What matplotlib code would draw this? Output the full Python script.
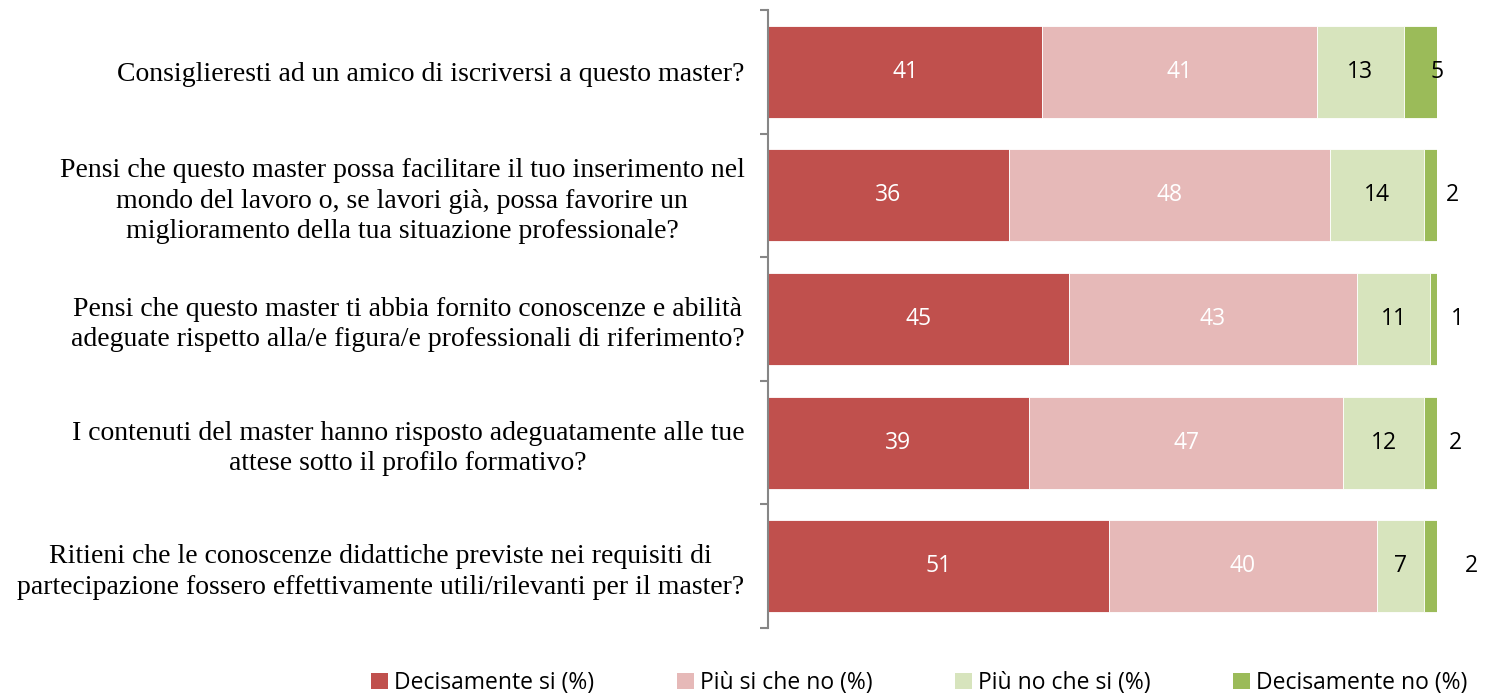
import matplotlib
matplotlib.use("Agg")
import matplotlib.pyplot as plt
from matplotlib.patches import Patch

categories = [
    "Consiglieresti ad un amico di iscriversi a questo master?",
    "Pensi che questo master possa facilitare il tuo inserimento nel\nmondo del lavoro o, se lavori già, possa favorire un\nmiglioramento della tua situazione professionale?",
    "Pensi che questo master ti abbia fornito conoscenze e abilità\nadeguate rispetto alla/e figura/e professionali di riferimento?",
    "I contenuti del master hanno risposto adeguatamente alle tue\nattese sotto il profilo formativo?",
    "Ritieni che le conoscenze didattiche previste nei requisiti di\npartecipazione fossero effettivamente utili/rilevanti per il master?",
]
series_names = ["Decisamente si (%)", "Più si che no (%)", "Più no che si (%)", "Decisamente no (%)"]
decisamente_si = [41, 36, 45, 39, 51]
piu_si = [41, 48, 43, 47, 40]
piu_no = [13, 14, 11, 12, 7]
decisamente_no = [5, 2, 1, 2, 2]
series = [decisamente_si, piu_si, piu_no, decisamente_no]

colors = ["#C0504D", "#E6B9B8", "#D7E4BD", "#9BBB59"]
label_colors = ["white", "white", "black", "black"]
# horizontal offsets (in points) for last-series labels
last_offsets_pt = [0, 11, 14.5, 13, 25]

fig = plt.figure(figsize=(14.85, 6.97), dpi=100)
ax = fig.add_axes([0.5172, 0.099, 0.4505, 0.8867])

y = list(range(len(categories)))
left = [0] * len(categories)
for si, (vals, col) in enumerate(zip(series, colors)):
    ax.barh(y, vals, left=left, height=0.745, color=col,
            edgecolor="white", linewidth=0.6, label=series_names[si])
    for i, (v, l) in enumerate(zip(vals, left)):
        if si < 3:
            ax.text(l + v / 2, i, str(v), ha="center", va="center",
                    color=label_colors[si], fontsize=16.5, family="Open Sans")
        else:
            ax.annotate(str(v), xy=(l + v, i), xytext=(last_offsets_pt[i], 0),
                        textcoords="offset points", ha="center", va="center",
                        color="black", fontsize=16.5, family="Open Sans")
    left = [a + b for a, b in zip(left, vals)]

ax.set_xlim(0, 100)
ax.set_ylim(len(categories) - 0.5, -0.5)
ax.set_yticks(y)
ax.set_yticklabels(categories, family="Liberation Serif", fontsize=20,
                   linespacing=1.28)
ax.tick_params(axis="y", length=0, pad=17)
ax.set_yticks([i - 0.5 for i in range(len(categories) + 1)], minor=True)
ax.tick_params(axis="y", which="minor", length=6, width=1.5, color="#868686", direction="out")
ax.set_xticks([])
for s in ["top", "right", "bottom"]:
    ax.spines[s].set_visible(False)
ax.spines["left"].set_color("#868686")
ax.spines["left"].set_linewidth(1.5)
for lbl in ax.get_yticklabels():
    lbl.set_multialignment("center")

handles = [Patch(facecolor=c, edgecolor="none") for c in colors]
fig.legend(handles, series_names, loc="center", ncol=4,
           bbox_to_anchor=(0.619, 0.02), frameon=False,
           prop={"family": "Open Sans", "size": 16.5},
           handlelength=0.75, handleheight=0.75, handletextpad=0.25,
           columnspacing=3.6)

fig.savefig("out.png", dpi=100)
